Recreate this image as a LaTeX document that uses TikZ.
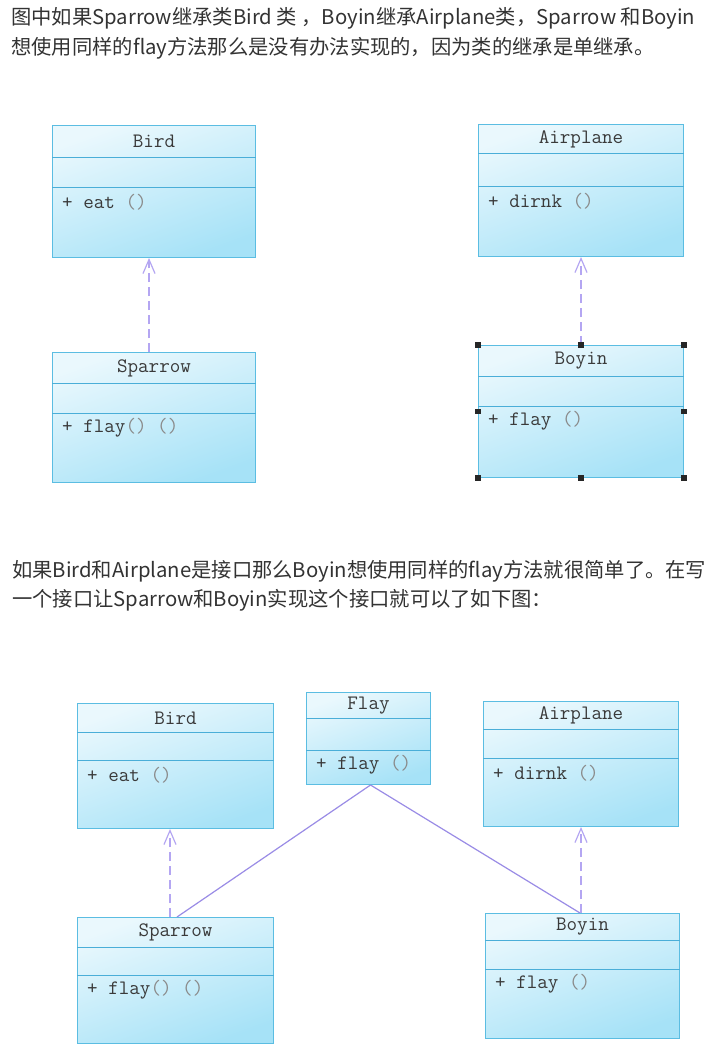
\documentclass[tikz,border=0pt]{standalone}
\usepackage{fontspec}
\setmainfont{Noto Sans CJK SC}
\usetikzlibrary{calc,arrows.meta}
\definecolor{txt}{HTML}{333333}
\definecolor{boxline}{HTML}{5BBDE2}
\definecolor{divline}{HTML}{4AAED8}
\definecolor{boxtop}{HTML}{EAF8FD}
\definecolor{boxbot}{HTML}{A6E2F7}
\definecolor{dep}{HTML}{B4A6F2}
\definecolor{assoc}{HTML}{9A8CE6}
\definecolor{boxtxt}{HTML}{3A3A3A}
\definecolor{paren}{HTML}{8A8A8A}
\tikzset{
  para/.style={anchor=base west, inner sep=0pt, text=txt, font=\fontsize{20.3pt}{24pt}\selectfont},
  classbox/.style={draw=boxline, line width=1pt, top color=boxtop, bottom color=boxbot, shading angle=20, inner sep=0pt},
  divider/.style={draw=divline, line width=0.9pt},
  titletext/.style={inner sep=0pt, text=boxtxt, font=\ttfamily\fontsize{20.5pt}{22pt}\selectfont},
  methodtext/.style={inner sep=0pt, anchor=west, text=boxtxt, font=\ttfamily\fontsize{20.5pt}{22pt}\selectfont},
  depend/.style={draw=dep, line width=1.2pt, dash pattern=on 9pt off 5pt, -{Straight Barb[length=14pt,width=12pt,line width=1.2pt]}},
  realize/.style={draw=assoc, line width=1.2pt},
  handle/.style={fill=black!85, draw=none, minimum size=5.5pt, inner sep=0pt},
}
% name, x, y, w, h, d1, d2, title, method
\newcommand\umlclass[9]{%
  \node[classbox, minimum width=#4pt, minimum height=#5pt, anchor=north west] (#1) at (#2,#3) {};
  \draw[divider] ($(#1.north west)+(0,#6)$) coordinate (#1-a) -- ($(#1.north east)+(0,#6)$) coordinate (#1-b);
  \draw[divider] ($(#1.north west)+(0,#7)$) coordinate (#1-c) -- ($(#1.north east)+(0,#7)$) coordinate (#1-d);
  \node[titletext] (#1-title) at ($(#1.north)+(0,#6/2+0.5)$) {#8};
  \node[methodtext] (#1-method) at ($(#1.north west)+(10,#7+15)$) {#9};
}
\begin{document}
\begin{tikzpicture}[x=1pt,y=-1pt]
\useasboundingbox[fill=white] (0,0) rectangle (720,1051);

% paragraph 1
\node[para] (p1a) at (11,25) {图中如果Sparrow继承类Bird 类 ，Boyin继承Airplane类，Sparrow 和Boyin};
\node[para] (p1b) at (11,55) {想使用同样的flay方法那么是没有办法实现的，因为类的继承是单继承。};

% top diagram
\umlclass{birdA}{52}{125}{203}{132}{32}{62}{Bird}{+ eat {\color{paren}()}}
\umlclass{sparrowA}{52}{352}{203}{130}{31}{61}{Sparrow}{+ flay{\color{paren}() ()}}
\umlclass{airA}{478}{124}{205}{132}{29}{62}{Airplane}{+ dirnk {\color{paren}()}}
\umlclass{boyinA}{478}{345}{205}{132}{31}{61}{Boyin}{+ flay {\color{paren}()}}

\draw[depend] (sparrowA.north -| 149,0) -- (birdA.south -| 149,0);
\draw[depend] (boyinA.north -| 581,0) -- (airA.south -| 581,0);

% selection handles
\foreach \a in {north west,north,north east,west,east,south west,south,south east}
  \node[handle] (h-\a) at ($(boyinA.\a)+(0,0)$) {};

% paragraph 2
\node[para] (p2a) at (12,577) {如果Bird和Airplane是接口那么Boyin想使用同样的flay方法就很简单了。在写};
\node[para] (p2b) at (12,606) {一个接口让Sparrow和Boyin实现这个接口就可以了如下图：};

% bottom diagram
\umlclass{birdB}{77}{703}{196}{125}{29}{57}{Bird}{+ eat {\color{paren}()}}
\umlclass{flayB}{306}{692}{124}{92}{26}{58}{Flay}{+ flay {\color{paren}()}}
\umlclass{airB}{483}{701}{195}{125}{28}{57}{Airplane}{+ dirnk {\color{paren}()}}
\umlclass{sparrowB}{77}{917}{196}{126}{30}{58}{Sparrow}{+ flay{\color{paren}() ()}}
\umlclass{boyinB}{485}{913}{194}{125}{27}{56}{Boyin}{+ flay {\color{paren}()}}

\coordinate (flayfoot) at ($(flayB.south)+(2,0)$);
\draw[realize] (flayfoot) -- (sparrowB.north -| 177,0);
\draw[realize] (flayfoot) -- (boyinB.north -| 580,0);
\draw[depend] (sparrowB.north -| 170,0) -- (birdB.south -| 170,0);
\draw[depend] (boyinB.north -| 581,0) -- (airB.south -| 581,0);
\end{tikzpicture}
\end{document}
